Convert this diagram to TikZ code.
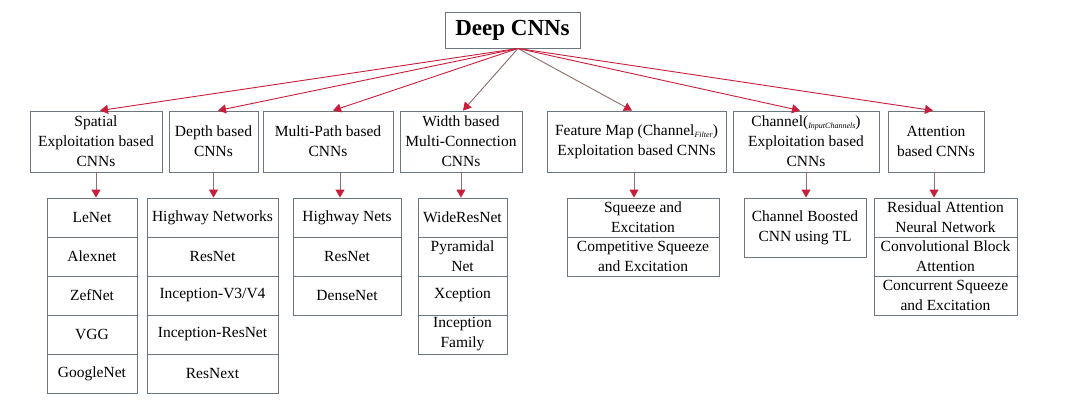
\documentclass[tikz,border=0pt]{standalone}
\usepackage{fontspec}
\setmainfont{Liberation Serif}
\usetikzlibrary{arrows.meta}
\definecolor{boxgray}{RGB}{110,118,125}
\definecolor{arrred}{RGB}{200,30,60}
\definecolor{linegray}{RGB}{140,110,110}
\tikzset{
  box/.style={draw=boxgray, line width=0.9pt, inner sep=0pt, align=center,
    font=\fontsize{15.5}{20}\selectfont, text=black},
  toparr/.style={draw=arrred, line width=0.9pt, -{Triangle[width=9pt,length=8pt]}, arrred},
  greyarr/.style={draw=linegray, line width=0.9pt, -{Triangle[width=9pt,length=8pt,color=arrred]}}
}
\newcommand{\subtxt}[1]{{\fontsize{8}{8}\selectfont\textit{#1}}}
\begin{document}
\begin{tikzpicture}[x=1pt,y=-1pt]
\useasboundingbox[fill=white] (0,0) rectangle (1080,408);
% top
\node[box, minimum width=135pt, minimum height=36pt, font=\fontsize{23}{26}\selectfont\bfseries] (top) at (512.5,30) {Deep CNNs};
\coordinate (org) at ([xshift=5.5pt]top.south);
% categories
\node[box, minimum width=132pt, minimum height=61pt] (cat1) at (96,141.5) {Spatial\\Exploitation based\\CNNs};
\node[box, minimum width=89pt, minimum height=61pt] (cat2) at (213.5,141.5) {Depth based\\CNNs};
\node[box, minimum width=130pt, minimum height=61pt] (cat3) at (328,141.5) {Multi-Path based\\CNNs};
\node[box, minimum width=122pt, minimum height=61pt] (cat4) at (461,141.5) {Width based\\Multi-Connection\\CNNs};
\node[box, minimum width=179pt, minimum height=61pt] (cat5) at (636.5,141.5) {Feature Map (Channel\raisebox{-2pt}{\subtxt{Filter}})\\Exploitation based CNNs};
\node[box, minimum width=146pt, minimum height=61pt] (cat6) at (806,141.5) {Channel(\raisebox{-2pt}{\subtxt{InputChannels}})\\Exploitation based\\CNNs};
\node[box, minimum width=96pt, minimum height=61pt] (cat7) at (936,141.5) {Attention\\based CNNs};
% column 1
\node[box, minimum width=90pt, minimum height=39pt] (c11) at (92,217.5) {LeNet};
\node[box, minimum width=90pt, minimum height=39pt] (c12) at (92,256.5) {Alexnet};
\node[box, minimum width=90pt, minimum height=39pt] (c13) at (92,295.5) {ZefNet};
\node[box, minimum width=90pt, minimum height=39pt] (c14) at (92,334.5) {VGG};
\node[box, minimum width=90pt, minimum height=39pt] (c15) at (92,373.5) {GoogleNet};
% column 2
\node[box, minimum width=131pt, minimum height=39pt] (c21) at (212.5,217.5) {Highway Networks};
\node[box, minimum width=131pt, minimum height=39pt] (c22) at (212.5,256.5) {ResNet};
\node[box, minimum width=131pt, minimum height=39pt] (c23) at (212.5,295.5) {Inception-V3/V4};
\node[box, minimum width=131pt, minimum height=39pt] (c24) at (212.5,334.5) {Inception-ResNet};
\node[box, minimum width=131pt, minimum height=39pt] (c25) at (212.5,373.5) {ResNext};
% column 3
\node[box, minimum width=108pt, minimum height=39pt] (c31) at (347,217.5) {Highway Nets};
\node[box, minimum width=108pt, minimum height=39pt] (c32) at (347,256.5) {ResNet};
\node[box, minimum width=108pt, minimum height=39pt] (c33) at (347,295.5) {DenseNet};
% column 4
\node[box, minimum width=89pt, minimum height=39pt] (c41) at (462.5,217.5) {WideResNet};
\node[box, minimum width=89pt, minimum height=39pt] (c42) at (462.5,256.5) {Pyramidal\\Net};
\node[box, minimum width=89pt, minimum height=39pt] (c43) at (462.5,295.5) {Xception};
\node[box, minimum width=89pt, minimum height=39pt] (c44) at (462.5,334.5) {Inception\\Family};
% column 5
\node[box, minimum width=152pt, minimum height=39pt] (c51) at (643,217.5) {Squeeze and\\Excitation};
\node[box, minimum width=152pt, minimum height=39pt] (c52) at (643,256.5) {Competitive Squeeze\\and Excitation};
% column 6
\node[box, minimum width=122pt, minimum height=59pt] (c61) at (805,227.5) {Channel Boosted\\CNN using TL};
% column 7
\node[box, minimum width=143pt, minimum height=39pt] (c71) at (945.5,217.5) {Residual Attention\\Neural Network};
\node[box, minimum width=143pt, minimum height=39pt] (c72) at (945.5,256.5) {Convolutional Block\\Attention};
\node[box, minimum width=143pt, minimum height=39pt] (c73) at (945.5,295.5) {Concurrent Squeeze\\and Excitation};
% top arrows
\draw[toparr] (org) -- ([xshift=4pt]cat1.north);
\draw[toparr] (org) -- ([xshift=4.5pt]cat2.north);
\draw[toparr] (org) -- ([xshift=5pt]cat3.north);
\draw[greyarr] (org) -- ([xshift=2pt]cat4.north);
\draw[greyarr] (org) -- ([xshift=-4.5pt]cat5.north);
\draw[toparr] (org) -- ([xshift=-6pt]cat6.north);
\draw[toparr] (org) -- ([xshift=-3pt]cat7.north);
% vertical arrows
\draw[greyarr] (cat1.south) -- (cat1.south |- c11.north);
\draw[greyarr] (cat2.south) -- (cat2.south |- c21.north);
\draw[greyarr] ([xshift=12pt]cat3.south) -- ([xshift=12pt]cat3.south |- c31.north);
\draw[greyarr] (cat4.south) -- (cat4.south |- c41.north);
\draw[greyarr] ([xshift=-2.5pt]cat5.south) -- ([xshift=-2.5pt]cat5.south |- c51.north);
\draw[greyarr] (cat6.south) -- (cat6.south |- c61.north);
\draw[greyarr] ([xshift=-2pt]cat7.south) -- ([xshift=-2pt]cat7.south |- c71.north);
\end{tikzpicture}
\end{document}
